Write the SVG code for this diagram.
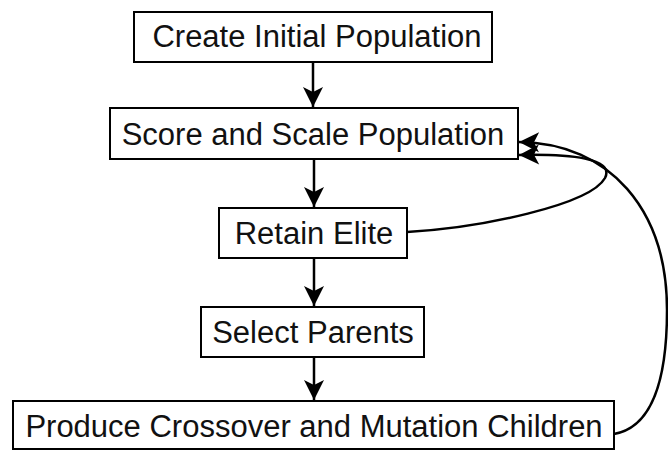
<svg xmlns="http://www.w3.org/2000/svg" width="668" height="450" viewBox="0 0 668 450">
<style>
.box{fill:#fff;stroke:#000;stroke-width:2}
.lbl{font-family:"Liberation Sans",Arial,sans-serif;font-size:31px;fill:#111;text-anchor:middle}
.con{fill:none;stroke:#000;stroke-width:2.5}
</style>
<defs>
<marker id="ah" markerUnits="userSpaceOnUse" markerWidth="24" markerHeight="24" viewBox="-22 -12 24 24" refX="0" refY="0" orient="auto">
<path d="M0,0 L-20,-10 L-15,0 L-20,10 Z" fill="#000"/>
</marker>
</defs>
<rect width="668" height="450" fill="#fff"/>
<g id="connectors">
<path class="con" d="M313,62 V107" marker-end="url(#ah)"/>
<path class="con" d="M314,159 V207" marker-end="url(#ah)"/>
<path class="con" d="M314,258 V306" marker-end="url(#ah)"/>
<path class="con" d="M314,357 V400" marker-end="url(#ah)"/>
<path class="con" d="M407,232 C480,228 590,205 605,178 C615,158 570,154 519,155" marker-end="url(#ah)"/>
<path class="con" d="M614,434 C648,428 667,390 667,310 C667,210 610,143 519,142" marker-end="url(#ah)"/>
</g>
<g id="n1"><rect class="box" x="134" y="12" width="358" height="50"/><text class="lbl" x="317" y="47">Create Initial Population</text></g>
<g id="n2"><rect class="box" x="110" y="108" width="408" height="51"/><text class="lbl" x="313" y="145">Score and Scale Population</text></g>
<g id="n3"><rect class="box" x="219" y="208" width="188" height="50"/><text class="lbl" x="314" y="244">Retain Elite</text></g>
<g id="n4"><rect class="box" x="201" y="307" width="223" height="50"/><text class="lbl" x="313" y="343">Select Parents</text></g>
<g id="n5"><rect class="box" x="13" y="401" width="601" height="48"/><text class="lbl" x="314" y="437">Produce Crossover and Mutation Children</text></g>
</svg>
